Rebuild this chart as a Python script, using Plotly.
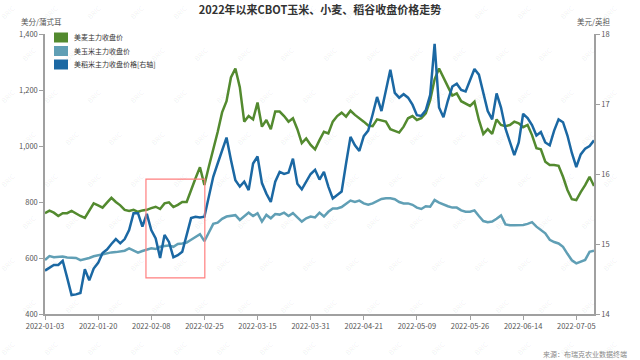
import plotly.graph_objects as go

# ---------------- data ----------------
tick_labels = ["2022-01-03", "2022-01-20", "2022-02-08", "2022-02-25", "2022-03-15",
               "2022-03-31", "2022-04-21", "2022-05-09", "2022-05-26", "2022-06-14",
               "2022-07-05"]
tick_step = 12  # one date label every 12 trading days

wheat = [760, 769, 762, 750, 760, 760, 768, 758, 750, 743,
         768, 795, 788, 780, 798, 815, 800, 788, 772, 768,
         772, 765, 770, 772, 778, 783, 775, 795, 799, 782,
         790, 800, 800, 845, 885, 924, 861, 926, 985, 1050,
         1120, 1160, 1245, 1277, 1210, 1087, 1107, 1095, 1155, 1069,
         1093, 1060, 1123, 1123, 1107, 1087, 1099, 1060, 1010, 1027,
         1004, 988, 1021, 1051, 1045, 1087, 1107, 1119, 1105, 1126,
         1111, 1100, 1087, 1073, 1071, 1095, 1090, 1087, 1060, 1055,
         1048, 1069, 1099, 1107, 1093, 1099, 1117, 1164, 1238, 1277,
         1242, 1212, 1180, 1188, 1160, 1150, 1143, 1158, 1093, 1043,
         1060, 1043, 1095, 1075, 1071, 1075, 1087, 1081, 1067, 1075,
         1039, 992, 988, 944, 932, 932, 929, 890, 843, 810,
         807, 835, 860, 890, 857]

corn = [593, 607, 603, 603, 605, 602, 602, 600, 592, 595,
        600, 606, 610, 612, 617, 620, 621, 623, 626, 634,
        625, 619, 625, 630, 635, 632, 640, 643, 645, 640,
        650, 652, 655, 665, 675, 685, 660, 694, 722, 726,
        740, 748, 750, 753, 736, 748, 762, 750, 760, 730,
        754, 742, 757, 755, 762, 750, 760, 745, 730, 742,
        748, 745, 762, 748, 765, 777, 777, 782, 795, 805,
        800, 805, 795, 790, 795, 803, 811, 813, 813, 810,
        800, 795, 795, 790, 780, 775, 785, 783, 807, 798,
        790, 785, 780, 780, 770, 765, 765, 770, 750, 732,
        728, 730, 740, 752, 720, 717, 717, 718, 718, 722,
        728, 712, 700, 688, 665, 657, 652, 640, 615, 592,
        581, 587, 593, 622, 626]

rice = [14.62, 14.66, 14.70, 14.70, 14.76, 14.52, 14.27, 14.28, 14.30, 14.64,
        14.48, 14.65, 14.73, 14.87, 14.92, 15.00, 15.07, 15.01, 15.07, 15.20,
        15.44, 15.44, 15.25, 15.43, 15.20, 15.08, 14.80, 15.13, 15.03, 14.81,
        14.84, 14.89, 15.13, 15.37, 15.39, 15.38, 15.39, 15.68, 15.96, 16.15,
        16.34, 16.52, 16.20, 15.91, 15.82, 15.89, 15.77, 16.15, 16.25, 15.87,
        15.72, 15.60, 15.89, 16.03, 16.00, 16.02, 16.22, 15.86, 15.78, 15.89,
        16.00, 16.06, 15.92, 16.03, 15.82, 15.65, 15.70, 15.75, 16.15, 16.53,
        16.41, 16.33, 16.54, 16.62, 16.85, 17.10, 16.90, 17.22, 17.49, 17.16,
        17.09, 17.14, 17.09, 16.99, 16.84, 16.83, 16.91, 17.13, 17.86, 16.95,
        16.81, 17.05, 17.25, 17.29, 17.20, 17.18, 17.35, 17.50, 17.42, 17.15,
        16.90, 16.78, 17.15, 16.95, 16.65, 16.46, 16.27, 16.45, 16.86, 16.80,
        16.70, 16.55, 16.60, 16.45, 16.41, 16.62, 16.78, 16.74, 16.55, 16.30,
        16.10, 16.28, 16.36, 16.40, 16.48]

series_names = ["美麦主力收盘价", "美玉米主力收盘价", "美稻米主力收盘价格[右轴]"]
colors = ["#538a2f", "#609fb5", "#1b68a3"]

# highlighted window (trading-day index range and left-axis value range)
box_start, box_end = 22.8, 36.1
box_low, box_high = 529, 882

idx = list(range(len(wheat)))
tickvals = [i * tick_step for i in range(len(tick_labels))]

W, H = 640, 360
L, R, T, B = 45, 46, 34, 46
pw, ph = W - L - R, H - T - B


def px_x(x):
    return (x - L) / pw


def px_y(y):
    return (H - y - B) / ph


fig = go.Figure()
fig.add_trace(go.Scatter(x=idx, y=wheat, mode="lines", name=series_names[0],
                         line=dict(color=colors[0], width=2.5), showlegend=False))
fig.add_trace(go.Scatter(x=idx, y=corn, mode="lines", name=series_names[1],
                         line=dict(color=colors[1], width=2.5), showlegend=False))
fig.add_trace(go.Scatter(x=idx, y=rice, mode="lines", name=series_names[2], yaxis="y2",
                         line=dict(color=colors[2], width=2.5), showlegend=False))

fig.add_shape(type="rect", xref="x", yref="y", x0=box_start, x1=box_end,
              y0=box_low, y1=box_high, line=dict(color="#ff7f7f", width=1.2),
              fillcolor="rgba(0,0,0,0)")

# manual legend (rectangular swatches, tight spacing as in the reference)
ann = []
for k, (nm, c) in enumerate(zip(series_names, colors)):
    yc = 37.5 + k * 13.5
    fig.add_shape(type="rect", xref="paper", yref="paper",
                  x0=px_x(54), x1=px_x(68), y0=px_y(yc + 5), y1=px_y(yc - 5),
                  fillcolor=c, line=dict(width=0))
    ann.append(dict(text=nm, x=px_x(72), y=px_y(yc), xref="paper", yref="paper",
                    xanchor="left", yanchor="middle", showarrow=False,
                    font=dict(size=7, color="#333")))

# faint watermark
for r in range(9):
    for c in range(16):
        wx = 8 + c * 43 + (r % 2) * 21
        wy = 12 + r * 42
        if wx > 622 or wy > 350:
            continue
        ann.append(dict(text="BRIC", x=px_x(wx), y=px_y(wy),
                        xref="paper", yref="paper", xanchor="center", yanchor="middle",
                        showarrow=False, textangle=-45,
                        font=dict(size=7, color="rgba(0,0,0,0.07)")))

ann += [
    dict(text="美分/蒲式耳", x=px_x(41), y=px_y(22), xref="paper", yref="paper",
         xanchor="center", yanchor="middle",
         showarrow=False, font=dict(size=7.5, color="#555")),
    dict(text="美元/英担", x=px_x(593), y=px_y(22), xref="paper", yref="paper",
         xanchor="center", yanchor="middle",
         showarrow=False, font=dict(size=7.5, color="#555")),
    dict(text="来源：布瑞克农业数据终端", x=px_x(629), y=px_y(354),
         xref="paper", yref="paper", xanchor="right", yanchor="middle", showarrow=False,
         font=dict(size=7, color="#888")),
]

axis_common = dict(showline=True, linecolor="#a0a0a0", linewidth=1.5, ticks="outside",
                   ticklen=4, tickcolor="#a0a0a0", showgrid=False, zeroline=False,
                   tickfont=dict(size=7.5, color="#555"))

fig.update_layout(
    width=W, height=H,
    margin=dict(l=L, r=R, t=T, b=B),
    paper_bgcolor="white", plot_bgcolor="white",
    font=dict(family="Noto Sans CJK SC, sans-serif", color="#333"),
    title=dict(text="<b>2022年以来CBOT玉米、小麦、稻谷收盘价格走势</b>", x=0.5, xanchor="center",
               y=1 - 10 / H, yanchor="middle", font=dict(size=11, color="#333")),
    xaxis=dict(range=[0, len(wheat) - 1], tickmode="array", tickvals=tickvals,
               ticktext=tick_labels, **axis_common),
    yaxis=dict(range=[400, 1400], tickmode="linear", tick0=400, dtick=200,
               tickformat=",", **axis_common),
    yaxis2=dict(range=[14, 18], tickmode="linear", tick0=14, dtick=1, overlaying="y",
                side="right", **axis_common),
    showlegend=False,
    annotations=ann,
)

fig.write_html("out.html", config={"displayModeBar": False},
               post_script="document.body.style.margin='0';")
